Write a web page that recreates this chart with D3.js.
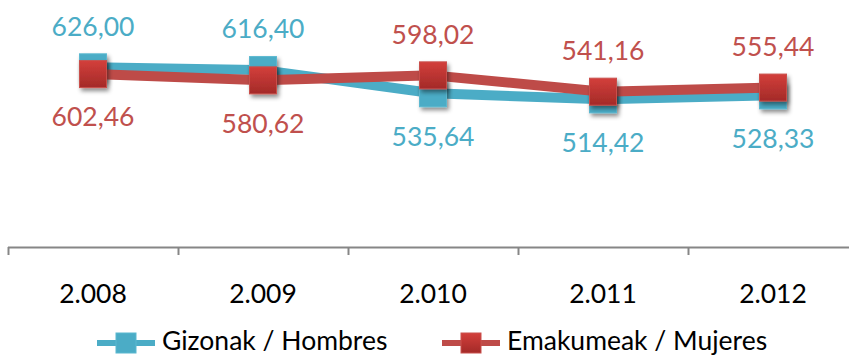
<!DOCTYPE html>
<html><head><meta charset="utf-8">
<script src="https://cdn.jsdelivr.net/npm/d3@7"></script>
<style>body{margin:0;background:#fff}svg{display:block}text{font-family:Lato,"Open Sans",sans-serif}</style>
</head><body>
<svg id="c" width="849" height="356"></svg>
<script>
const categories = ["2.008","2.009","2.010","2.011","2.012"];
const hombres = [626.00, 616.40, 535.64, 514.42, 528.33];
const mujeres = [602.46, 580.62, 598.02, 541.16, 555.44];
const seriesNames = ["Gizonak / Hombres","Emakumeak / Mujeres"];
const fmt = v => v.toFixed(2).replace(".", ",");

const svg = d3.select("#c");
const defs = svg.append("defs");
const g1 = defs.append("linearGradient").attr("id","rg").attr("x1",0).attr("y1",0).attr("x2",0).attr("y2",1);
g1.append("stop").attr("offset","0%").attr("stop-color","#d33f3b");
g1.append("stop").attr("offset","100%").attr("stop-color","#a32a28");
const f = defs.append("filter").attr("id","sh").attr("x","-50%").attr("y","-50%").attr("width","200%").attr("height","200%");
f.append("feDropShadow").attr("dx",2).attr("dy",3).attr("stdDeviation",2.2).attr("flood-color","#000").attr("flood-opacity",0.45);

const x = d3.scaleBand().domain(categories).range([8, 858]);
const y = d3.scaleLinear().domain([0, 700]).range([247, 46.1]);
const cx = c => x(c) + x.bandwidth()/2;
const FS = 26.5;

svg.append("line").attr("x1",8).attr("x2",858).attr("y1",247.5).attr("y2",247.5).attr("stroke","#868686").attr("stroke-width",2);
const tickPos = categories.map(c => x(c)).concat([x.range()[1]]);
svg.selectAll(".tk").data(tickPos).join("line").attr("class","tk").attr("x1",d=>d+0.5).attr("x2",d=>d+0.5).attr("y1",247).attr("y2",255).attr("stroke","#868686").attr("stroke-width",2);
svg.selectAll(".xl").data(categories).join("text").attr("class","xl").attr("x",d=>cx(d)).attr("y",303).attr("text-anchor","middle").attr("font-size",FS).attr("fill","#000").text(d=>d);

const series = [
  {name: seriesNames[0], values: hombres, color:"#4bacc6", fill:"#4bacc6", stroke:"#5bb8d0", labelColor:"#4bacc6"},
  {name: seriesNames[1], values: mujeres, color:"#be4b48", fill:"url(#rg)", stroke:"#c9504c", labelColor:"#c0504d"}
];
const line = d3.line().x((d,i)=>cx(categories[i])).y(d=>y(d));
series.forEach((s, si) => {
  svg.append("path").datum(s.values).attr("d", line).attr("fill","none").attr("stroke", s.color).attr("stroke-width",10).attr("stroke-linejoin","round");
  svg.append("g").selectAll("rect").data(s.values).join("rect")
    .attr("x",(d,i)=>cx(categories[i])-13.5).attr("y",d=>y(d)-13.5).attr("width",27).attr("height",27)
    .attr("fill", s.fill).attr("stroke", s.stroke).attr("stroke-width",1).attr("filter","url(#sh)");
});
series.forEach((s, si) => {
  const other = series[1-si].values;
  svg.append("g").selectAll("text").data(s.values).join("text")
    .attr("x",(d,i)=>cx(categories[i])).attr("y",(d,i)=> d >= other[i] ? y(d)-41 : y(d)+43)
    .attr("dy","0.35em").attr("text-anchor","middle").attr("font-size",FS).attr("fill", s.labelColor)
    .text(d=>fmt(d));
});

const leg = [{x0:97, tx:162}, {x0:442, tx:507}];
series.forEach((s, si) => {
  const L = leg[si];
  const gy = 343;
  svg.append("line").attr("x1",L.x0).attr("x2",L.x0+58).attr("y1",gy).attr("y2",gy).attr("stroke",s.color).attr("stroke-width",6);
  svg.append("rect").attr("x",L.x0+19).attr("y",gy-10).attr("width",20).attr("height",20).attr("fill",s.fill).attr("stroke",s.stroke).attr("stroke-width",1);
  svg.append("text").attr("x",L.tx).attr("y",350).attr("font-size",FS).attr("fill","#000").text(s.name);
});
</script>
</body></html>
